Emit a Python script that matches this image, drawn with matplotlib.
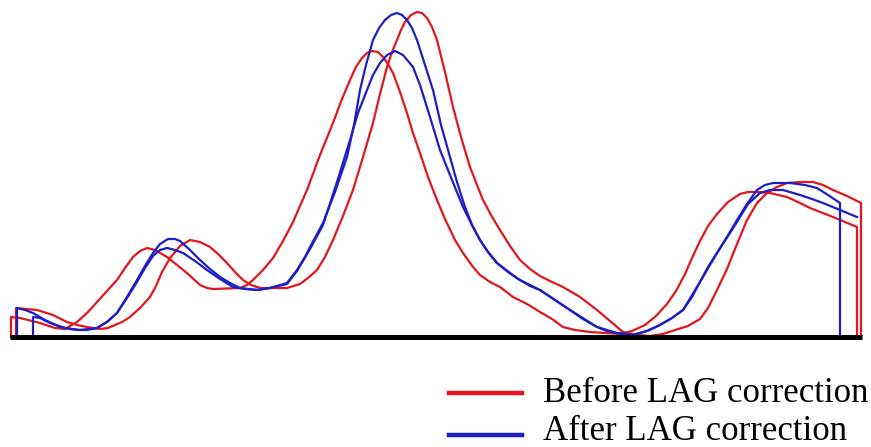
import matplotlib
matplotlib.use("Agg")
import matplotlib.pyplot as plt
from matplotlib.lines import Line2D

# Before LAG correction: two scans (shifted left / shifted right)
red_a_x = [11, 11, 20, 40, 55, 65, 77, 87, 97, 107, 117, 125, 133, 140, 147, 155, 167, 177, 187, 200,
           207, 213, 240, 247, 253, 263, 273, 283, 293, 307, 320, 333, 342, 350, 356, 362, 367, 372, 378, 383,
           388, 393, 400, 407, 413, 420, 428, 437, 445, 455, 463, 473, 480, 490, 500, 513, 527, 540, 552, 563,
           575, 590, 605, 620, 632, 645, 656, 667, 676, 685, 692, 700, 708, 717, 728, 740, 748, 757, 770, 787,
           800, 810, 833, 857, 857]
red_a_y = [0, 20, 19, 14, 9, 8, 15, 24, 35, 46, 57, 69, 80, 86, 89, 87, 80, 72, 64, 52,
           49, 48, 49, 52, 57, 67, 79, 96, 115, 147, 182, 214, 238, 257, 270, 279, 284, 286, 285, 280,
           273, 264, 245, 224, 204, 184, 160, 137, 118, 97, 84, 70, 62, 55, 50, 40, 33, 25, 18, 10,
           7, 5, 4, 3, 6, 12, 21, 33, 46, 63, 79, 96, 111, 123, 135, 143, 145, 145, 144, 140,
           134, 129, 120, 110, 0]

red_b_x = [16, 16, 37, 53, 67, 77, 87, 100, 108, 115, 122, 130, 140, 150, 156, 162, 170, 180, 190, 200,
           210, 218, 227, 235, 243, 251, 260, 287, 300, 308, 317, 325, 333, 343, 353, 363, 373, 380, 387, 392,
           397, 401, 405, 411, 417, 422, 427, 432, 437, 445, 453, 461, 470, 477, 483, 491, 500, 510, 520, 530,
           540, 552, 563, 580, 597, 610, 623, 637, 650, 663, 675, 688, 700, 708, 717, 727, 737, 747, 757, 767,
           777, 787, 800, 813, 823, 833, 847, 861, 861]
red_b_y = [0, 29, 27, 22, 15, 12, 10, 8, 9, 12, 15, 20, 29, 40, 51, 65, 79, 91, 97, 95,
           90, 83, 74, 65, 57, 52, 49, 49, 53, 59, 67, 80, 97, 121, 147, 180, 214, 243, 270, 285,
           297, 307, 315, 322, 325, 324, 319, 310, 297, 265, 230, 200, 170, 152, 137, 122, 107, 91, 77, 68,
           61, 55, 50, 40, 27, 16, 5, 2, 1, 3, 7, 11, 18, 29, 47, 68, 93, 117, 134, 144,
           150, 154, 155, 155, 152, 147, 141, 134, 0]

# After LAG correction
blue_a_x = [17, 17, 25, 33, 45, 60, 70, 78, 87, 97, 107, 117, 127, 137, 145, 153, 160, 168, 175, 180,
            190, 200, 210, 220, 230, 240, 257, 270, 287, 297, 305, 310, 323, 335, 347, 354, 360, 366, 373, 379,
            385, 391, 397, 402, 407, 412, 417, 425, 433, 441, 450, 457, 465, 472, 480, 488, 497, 508, 520, 530,
            540, 555, 570, 583, 597, 607, 617, 633, 647, 660, 672, 683, 692, 700, 708, 717, 727, 737, 747, 757,
            765, 773, 790, 805, 817, 828, 840, 840]
blue_a_y = [0, 29, 27, 24, 17, 10, 8, 7, 7, 9, 15, 24, 40, 57, 71, 84, 93, 98, 98, 96,
            87, 77, 68, 60, 54, 49, 47, 49, 54, 67, 80, 90, 114, 145, 180, 212, 247, 272, 297, 309,
            317, 322, 324, 322, 317, 309, 297, 272, 247, 212, 180, 155, 130, 112, 97, 85, 74, 65, 57, 51,
            47, 37, 27, 18, 10, 6, 4, 2, 6, 12, 19, 27, 40, 55, 70, 84, 100, 117, 133, 147,
            152, 154, 154, 152, 149, 142, 134, 0]

blue_b_x = [33, 33, 40, 50, 65, 80, 97, 107, 117, 127, 137, 145, 153, 160, 167, 175, 183, 195, 207, 220,
            233, 245, 257, 270, 287, 297, 310, 323, 337, 350, 358, 367, 373, 380, 387, 395, 403, 413, 420, 430,
            440, 452, 463, 472, 480, 488, 497, 518, 540, 570, 597, 617, 633, 647, 660, 672, 683, 700, 717, 737,
            748, 760, 770, 783, 800, 812, 823, 840, 857]
blue_b_y = [0, 20, 19, 14, 9, 7, 9, 15, 24, 39, 55, 69, 81, 87, 89, 87, 84, 76, 67, 58,
            50, 48, 47, 49, 53, 66, 88, 112, 155, 197, 224, 247, 262, 274, 282, 286, 282, 270, 252, 220,
            187, 157, 130, 112, 97, 85, 74, 58, 47, 27, 10, 4, 2, 6, 12, 19, 27, 55, 84, 115,
            133, 144, 147, 147, 142, 138, 134, 127, 120]

labels = ["Before LAG correction", "After LAG correction"]
red = "#e3161b"
blue = "#1c1fc8"

fig = plt.figure(figsize=(8.71, 4.47), dpi=100)
ax = fig.add_axes([0, 0, 1, 1])
ax.set_xlim(0, 871)
ax.set_ylim(-110, 337)
ax.axis("off")

lw = 1.6
ax.plot(red_a_x, red_a_y, color=red, lw=lw, solid_joinstyle="round")
ax.plot(red_b_x, red_b_y, color=red, lw=lw, solid_joinstyle="round")
ax.plot(blue_a_x, blue_a_y, color=blue, lw=lw, solid_joinstyle="round")
ax.plot(blue_b_x, blue_b_y, color=blue, lw=lw, solid_joinstyle="round")

# baseline
xs = red_a_x + red_b_x + blue_a_x + blue_b_x
ax.hlines(0, min(xs) - 1, max(xs) + 1, color="black", lw=3.6, zorder=5)

# legend drawn by hand in figure pixels
W, H = 871.0, 447.0
for lab, col, base, ly in zip(labels, [red, blue], [402, 440], [393, 435]):
    fig.add_artist(Line2D([449 / W, 522 / W], [1 - ly / H] * 2,
                          color=col, lw=3.2, transform=fig.transFigure))
    fig.text(543 / W, 1 - base / H, lab, fontsize=25, family="Liberation Serif",
             va="baseline", ha="left", color="black")

fig.savefig("out.png", dpi=100)
